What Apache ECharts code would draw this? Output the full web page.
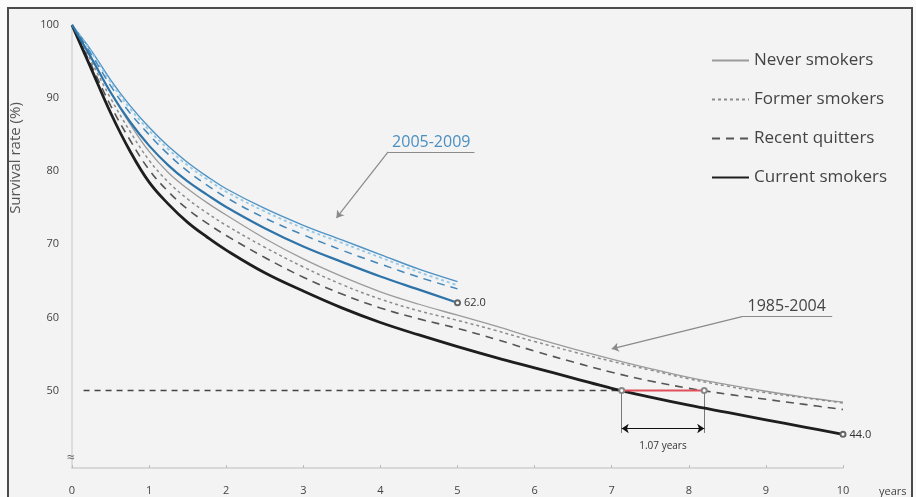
<!DOCTYPE html>
<html>
<head>
<meta charset="utf-8">
<script src="https://cdn.jsdelivr.net/npm/echarts@6/dist/echarts.min.js"></script>
<style>
  html, body { margin: 0; padding: 0; background: #fafafa; }
  #chart { width: 916px; height: 497px; }
</style>
</head>
<body>
<div id="chart"></div>
<script>
const years = [0, 0.25, 0.5, 0.75, 1, 1.25, 1.5, 1.75, 2, 2.5, 3, 3.5, 4, 4.5, 5,
               5.5, 6, 6.5, 7, 7.5, 8, 8.5, 9, 9.5, 10];

// 1985-2004 cohort, survival rate (%)
const neverSmokers   = [100, 95.5, 90.8, 86.5, 82.7, 79.8, 77.6, 75.7, 74.0, 70.8, 68.0, 65.6, 63.5, 61.8, 60.3,
                        58.8, 57.2, 55.7, 54.3, 53.0, 51.8, 50.8, 49.9, 49.1, 48.4];
const formerSmokers  = [100, 95.0, 90.0, 85.5, 81.5, 78.5, 76.2, 74.3, 72.6, 69.6, 66.9, 64.5, 62.5, 60.9, 59.6,
                        58.2, 56.7, 55.3, 54.0, 52.8, 51.6, 50.6, 49.7, 49.0, 48.3];
const recentQuitters = [100, 94.5, 89.0, 84.3, 80.2, 77.2, 74.8, 72.9, 71.2, 68.2, 65.5, 63.2, 61.3, 59.8, 58.5,
                        57.0, 55.4, 53.9, 52.5, 51.3, 50.3, 49.5, 48.8, 48.1, 47.4];
const currentSmokers = [100, 94.0, 88.0, 82.8, 78.5, 75.5, 73.0, 71.0, 69.2, 66.1, 63.6, 61.3, 59.3, 57.6, 56.0,
                        54.5, 53.1, 51.7, 50.3, 49.1, 48.0, 47.0, 46.0, 45.0, 44.0];

// 2005-2009 cohort (five years of follow-up)
const neverSmokers05   = [100, 96.5, 92.5, 89.0, 86.0, 83.4, 81.2, 79.3, 77.6, 74.9, 72.6, 70.6, 68.6, 66.6, 64.9];
const formerSmokers05  = [100, 96.3, 92.2, 88.6, 85.6, 83.0, 80.8, 78.9, 77.2, 74.5, 72.2, 70.2, 68.2, 66.2, 64.4];
const recentQuitters05 = [100, 96.0, 91.7, 88.0, 85.0, 82.3, 80.0, 78.1, 76.4, 73.6, 71.3, 69.2, 67.3, 65.5, 63.9];
const currentSmokers05 = [100, 95.5, 90.8, 86.8, 83.5, 80.8, 78.6, 76.8, 75.1, 72.2, 69.7, 67.6, 65.6, 63.8, 62.0];

// Median survival (50 %) reached by current smokers and by recent quitters
const medianLevel = 50;
const medianCurrent = 7.13;
const medianQuitters = 8.20;

const xTicks = [0, 1, 2, 3, 4, 5, 6, 7, 8, 9, 10];
const yTicks = [50, 60, 70, 80, 90, 100];

const FONT = 'Open Sans';

function points(ys, labelLast) {
  return ys.map((v, i) => {
    if (labelLast && i === ys.length - 1) {
      return {
        value: [years[i], v],
        symbol: 'emptyCircle',
        symbolSize: 5,
        itemStyle: { color: '#666' },
        label: {
          show: true, position: 'right', distance: 3,
          fontFamily: FONT, fontSize: 11, color: '#333',
          formatter: p => p.value[1].toFixed(1)
        }
      };
    }
    return [years[i], v];
  });
}

function curve(name, ys, color, width, dash, z, labelLast) {
  return {
    name, type: 'line', data: points(ys, labelLast),
    symbol: 'none', smooth: 0.4,
    z, silent: true,
    lineStyle: { color, width, type: dash || 'solid' },
    itemStyle: { color },
    label: { show: false }
  };
}

const gapYears = (medianQuitters - medianCurrent).toFixed(2);

const chart = echarts.init(document.getElementById('chart'), null, { renderer: 'canvas' });

chart.setOption({
  animation: false,
  backgroundColor: '#fafafa',
  textStyle: { fontFamily: FONT },
  graphic: [
    { type: 'rect', z: -10, silent: true,
      shape: { x: 8, y: 8, width: 904, height: 500 },
      style: { fill: '#f3f3f3', stroke: '#4a4a4a', lineWidth: 2 } },
    { type: 'text', z: 10, x: 16, y: 158, rotation: Math.PI / 2,
      style: { text: 'Survival rate (%)', fontFamily: FONT, fontSize: 15, fill: '#555',
               align: 'center', verticalAlign: 'middle' } },
    { type: 'text', z: 10, x: 71, y: 458,
      style: { text: '\u2248', fontFamily: FONT, fontSize: 14, fill: '#666',
               align: 'center', verticalAlign: 'middle' } }
  ],
  grid: { left: 72, right: 73, top: 25, bottom: 28, containLabel: false },
  legend: {
    data: ['Never smokers', 'Former smokers', 'Recent quitters', 'Current smokers'],
    orient: 'vertical', left: 706, top: 47,
    itemWidth: 37, itemHeight: 12, itemGap: 22,
    selectedMode: false,
    itemStyle: { opacity: 0 },
    textStyle: { fontFamily: FONT, fontSize: 17, color: '#444' }
  },
  xAxis: {
    type: 'value', min: 0, max: 10, interval: 1,
    name: 'years', nameLocation: 'end', nameGap: 36,
    nameTextStyle: { fontFamily: FONT, fontSize: 11, color: '#444', verticalAlign: 'top', padding: [18, 0, 0, 0] },
    axisLine: { lineStyle: { color: '#cfcfcf', width: 1.5 } },
    axisTick: { show: true, length: 3, inside: true, lineStyle: { color: '#bbb' } },
    axisLabel: { fontFamily: FONT, fontSize: 11, color: '#444', margin: 17,
                 formatter: v => xTicks.includes(v) ? String(v) : '' },
    splitLine: { show: false }
  },
  yAxis: {
    type: 'value', min: 39.4, max: 100,
    axisLine: { show: true, lineStyle: { color: '#d6d6d6', width: 1.5 } },
    axisTick: { show: false },
    axisLabel: { customValues: yTicks, fontFamily: FONT, fontSize: 11, color: '#444', margin: 13 },
    splitLine: { show: false }
  },
  series: [
    // 1985-2004
    curve('Never smokers', neverSmokers, '#9b9b9b', 1.3, null, 3),
    curve('Former smokers', formerSmokers, '#8c8c8c', 1.5, [3, 3], 3),
    curve('Recent quitters', recentQuitters, '#555555', 1.6, [8, 6], 4),
    curve('Current smokers', currentSmokers, '#1e1e1e', 2.8, null, 5, true),
    // 2005-2009
    curve('Never smokers 2005-2009', neverSmokers05, '#4f93c4', 1.4, null, 6),
    curve('Former smokers 2005-2009', formerSmokers05, '#93c8e6', 1.8, [3, 3], 6),
    curve('Recent quitters 2005-2009', recentQuitters05, '#4286ba', 1.5, [8, 6], 6),
    curve('Current smokers 2005-2009', currentSmokers05, '#2f74a9', 2.2, null, 7, true),
    // reference line at 50 %
    {
      name: 'median line', type: 'line', silent: true, z: 4,
      data: [[0.15, medianLevel], [medianCurrent, medianLevel]],
      symbol: 'none',
      lineStyle: { color: '#444', width: 1.5, type: [6, 5] }
    },
    // gap between current smokers and recent quitters
    {
      name: 'median gap', type: 'line', silent: true, z: 8,
      data: [[medianCurrent, medianLevel], [medianQuitters, medianLevel]],
      symbol: 'emptyCircle', symbolSize: 5,
      itemStyle: { color: '#888' },
      lineStyle: { color: '#e0505a', width: 2.2 },
      markLine: {
        silent: true, symbol: ['none', 'none'], symbolSize: 7,
        label: { show: false },
        lineStyle: { color: '#777', width: 1, type: 'solid' },
        data: [
          [{ coord: [medianCurrent, medianLevel] }, { coord: [medianCurrent, 44.2] }],
          [{ coord: [medianQuitters, medianLevel] }, { coord: [medianQuitters, 44.2] }],
          [{ coord: [medianCurrent, 44.8], symbol: 'arrow', lineStyle: { color: '#111', width: 1.2 } },
           { coord: [medianQuitters, 44.8], symbol: 'arrow' }]
        ]
      },
      markPoint: {
        silent: true, symbol: 'circle', symbolSize: 0,
        data: [{
          coord: [(medianCurrent + medianQuitters) / 2, 42.4],
          label: { show: true, formatter: gapYears + ' years', fontFamily: FONT, fontSize: 10, color: '#333' }
        }]
      }
    },
    // period annotations
    {
      name: 'periods', type: 'line', silent: true, z: 9, data: [],
      markLine: {
        silent: true, symbol: ['none', 'none'], symbolSize: 7,
        label: { show: false },
        lineStyle: { color: '#8a8a8a', width: 1.2, type: 'solid' },
        data: [
          [{ coord: [4.10, 82.65] }, { coord: [5.22, 82.65] }],
          [{ coord: [4.10, 82.65] }, { coord: [3.43, 73.6], symbol: 'arrow' }],
          [{ coord: [8.69, 60.1] }, { coord: [9.86, 60.1] }],
          [{ coord: [8.69, 60.1] }, { coord: [7.0, 55.7], symbol: 'arrow' }]
        ]
      },
      markPoint: {
        silent: true, symbol: 'circle', symbolSize: 0,
        data: [
          { coord: [4.66, 84.0],
            label: { show: true, formatter: '2005-2009', fontFamily: FONT, fontSize: 16, color: '#4a8fc0' } },
          { coord: [9.27, 61.5],
            label: { show: true, formatter: '1985-2004', fontFamily: FONT, fontSize: 16, color: '#444' } }
        ]
      }
    }
  ]
});
</script>
</body>
</html>
